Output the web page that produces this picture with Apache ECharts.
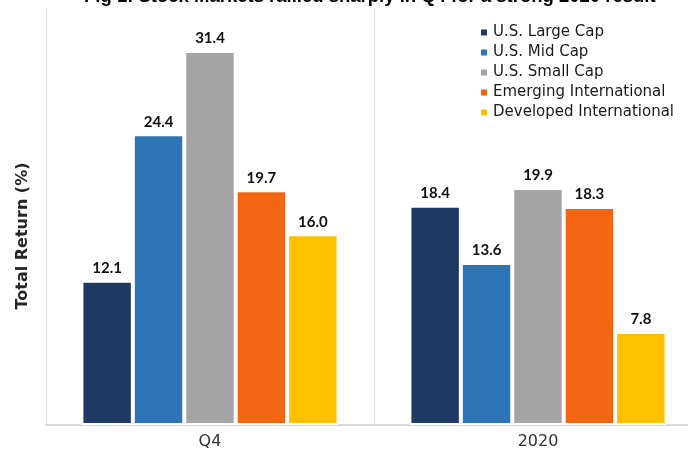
<!DOCTYPE html>
<html>
<head>
<meta charset="utf-8">
<script src="https://cdn.jsdelivr.net/npm/echarts@6/dist/echarts.min.js"></script>
<style>
  html, body { margin: 0; padding: 0; background: #ffffff; }
  #chart { width: 688px; height: 450px; }
</style>
</head>
<body>
<div id="chart"></div>
<script>
// Periods shown on the category axis
const periods = ['Q4', '2020'];

// Total return (%) per market segment, one value per period
const seriesNames = ['U.S. Large Cap', 'U.S. Mid Cap', 'U.S. Small Cap', 'Emerging International', 'Developed International'];
const largeCap = [12.1, 18.4];
const midCap = [24.4, 13.6];
const smallCap = [31.4, 19.9];
const emergingIntl = [19.7, 18.3];
const developedIntl = [16.0, 7.8];

const seriesColors = ['#1f3864', '#2e75b6', '#a5a5a5', '#f46511', '#ffc000'];
const seriesValues = [largeCap, midCap, smallCap, emergingIntl, developedIntl];

const chart = echarts.init(document.getElementById('chart'));

chart.setOption({
  animation: false,
  title: {
    text: 'Fig 1: Stock Markets rallied sharply in Q4 for a strong 2020 result',
    left: 79,
    top: -18,
    textStyle: { fontFamily: 'Liberation Sans', fontWeight: 'bold', fontSize: 18.5, color: '#000000' }
  },
  legend: {
    orient: 'vertical',
    left: 474,
    top: 20,
    itemWidth: 8,
    itemHeight: 8,
    itemGap: 5,
    icon: 'rect',
    textStyle: { fontFamily: 'DejaVu Sans', fontSize: 15, lineHeight: 15, color: '#1a1a1a' },
    data: seriesNames
  },
  graphic: [{
    type: 'text',
    x: 23,
    y: 236,
    rotation: Math.PI / 2,
    style: {
      text: 'Total Return (%)',
      fontFamily: 'DejaVu Sans',
      fontWeight: 'bold',
      fontSize: 16,
      fill: '#262626',
      align: 'center',
      verticalAlign: 'middle'
    }
  }],
  // the plot runs slightly past the right edge of the canvas
  grid: { left: 46, width: 656, top: 8, bottom: 25, containLabel: false, outerBoundsMode: 'none' },
  xAxis: {
    type: 'category',
    data: periods,
    axisLine: { lineStyle: { color: '#d9d9d9', width: 2 } },
    axisTick: { show: false },
    splitLine: { show: true, lineStyle: { color: '#e3e3e3', width: 1 } },
    axisLabel: { fontFamily: 'DejaVu Sans', fontSize: 16, color: '#333333', margin: 9 }
  },
  yAxis: {
    type: 'value',
    min: 0,
    max: 35,
    axisLine: { show: false },
    axisTick: { show: false },
    axisLabel: { show: false },
    splitLine: { show: false }
  },
  series: seriesNames.map((name, i) => ({
    name: name,
    type: 'bar',
    data: seriesValues[i],
    barGap: '0%',
    barCategoryGap: '21.6%',
    itemStyle: { color: seriesColors[i], borderColor: '#ffffff', borderWidth: 2 },
    label: {
      show: true,
      position: 'top',
      distance: 5,
      formatter: p => p.value.toFixed(1),
      fontFamily: 'Lato',
      fontWeight: 'bold',
      fontSize: 15,
      color: '#111111'
    }
  }))
});
</script>
</body>
</html>
